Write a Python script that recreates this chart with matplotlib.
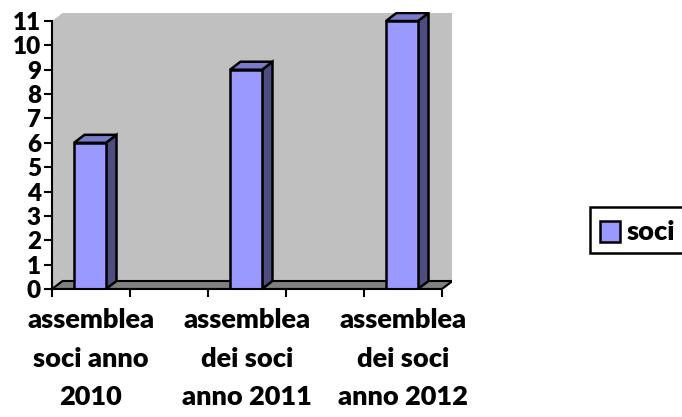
import numpy as np
import matplotlib
matplotlib.use("Agg")
import matplotlib.pyplot as plt
from matplotlib.patches import Polygon, Rectangle

categories = ["assemblea\nsoci anno\n2010", "", "assemblea\ndei soci\nanno 2011", "", "assemblea\ndei soci\nanno 2012"]
values = [6, np.nan, 9, np.nan, 11]
yticks = list(range(0, 12))
series_name = "soci"

FRONT = "#9999FF"
SIDE = "#4D4D80"
TOP = "#7A7ACC"
WALL = "#C0C0C0"
FLOOR = "#808080"

plt.rcParams['font.family'] = ['Lato', 'DejaVu Sans']
WEIGHT = 'heavy'

W, H = 682, 417
fig = plt.figure(figsize=(W / 100, H / 100), dpi=100)
L, R, T, B = 52, 452, 12, 289
ax = fig.add_axes([L / W, (H - B) / H, (R - L) / W, (B - T) / H])

pxx = 78.0
pxy = (289 - 21) / 11.0
xmin = -0.5
xmax = xmin + (R - L) / pxx
ymax = (B - T) / pxy
ax.set_xlim(xmin, xmax)
ax.set_ylim(0, ymax)

dx = 10.5 / pxx
dy = 8.0 / pxy
n = len(categories)
x_end = n - 0.5

# back wall
ax.add_patch(Polygon([(xmin, 0), (xmin, 11), (xmin + dx, 11 + dy), (x_end + dx, 11 + dy),
                      (x_end + dx, dy), (x_end, 0)], closed=True, facecolor=WALL,
                     edgecolor='none', zorder=0))
# floor
ax.add_patch(Polygon([(xmin, 0), (xmin + dx, dy), (x_end + dx, dy), (x_end, 0)], closed=True,
                     facecolor=FLOOR, edgecolor='black', linewidth=1.5, zorder=1))

bw = 32.0 / pxx
for i, v in enumerate(values):
    if np.isnan(v):
        continue
    c = i - 1.0 / pxx
    x0, x1 = c - bw / 2, c + bw / 2
    ax.add_patch(Polygon([(x1, 0), (x1 + dx, dy), (x1 + dx, v + dy), (x1, v)], closed=True,
                         facecolor=SIDE, edgecolor='black', linewidth=1.8, zorder=3))
    ax.add_patch(Polygon([(x0, v), (x0 + dx, v + dy), (x1 + dx, v + dy), (x1, v)], closed=True,
                         facecolor=TOP, edgecolor='black', linewidth=1.8, zorder=3))
    ax.add_patch(Rectangle((x0, 0), bw, v, facecolor=FRONT, edgecolor='black',
                           linewidth=1.8, zorder=4))

for s in ['top', 'right']:
    ax.spines[s].set_visible(False)
ax.spines['left'].set_bounds(0, 11)
ax.spines['bottom'].set_bounds(xmin, x_end)
for s in ['left', 'bottom']:
    ax.spines[s].set_linewidth(1.5)
    ax.spines[s].set_zorder(5)

ax.set_yticks(yticks)
ax.set_yticklabels([str(t) for t in yticks], fontsize=17.5, fontweight=WEIGHT)
ax.tick_params(axis='y', direction='out', length=6, width=1.5, pad=2)

ax.set_xticks(np.arange(n + 1) - 0.5)
ax.set_xticklabels([])
ax.tick_params(axis='x', which='major', direction='out', length=6, width=1.5)
ax.set_xticks(np.arange(n), minor=True)
ax.set_xticklabels(categories, minor=True, fontsize=19.5, fontweight=WEIGHT)
ax.tick_params(axis='x', which='minor', length=0, pad=14)
for lbl in ax.get_xticklabels(minor=True):
    lbl.set_linespacing(1.72)
    lbl.set_verticalalignment('top')

ax.set_facecolor('none')

# legend
lax = fig.add_axes([0, 0, 1, 1], facecolor='none')
lax.set_xlim(0, W)
lax.set_ylim(H, 0)
lax.axis('off')
lax.add_patch(Rectangle((590, 207), 100, 46, facecolor='white', edgecolor='black',
                        linewidth=1.8, clip_on=False))
lax.add_patch(Rectangle((600, 221), 20, 21, facecolor=FRONT, edgecolor='black', linewidth=1.8))
lax.text(627, 232, series_name, fontsize=19.5, fontweight=WEIGHT, va='center', ha='left')

fig.savefig("out.png", dpi=100)
